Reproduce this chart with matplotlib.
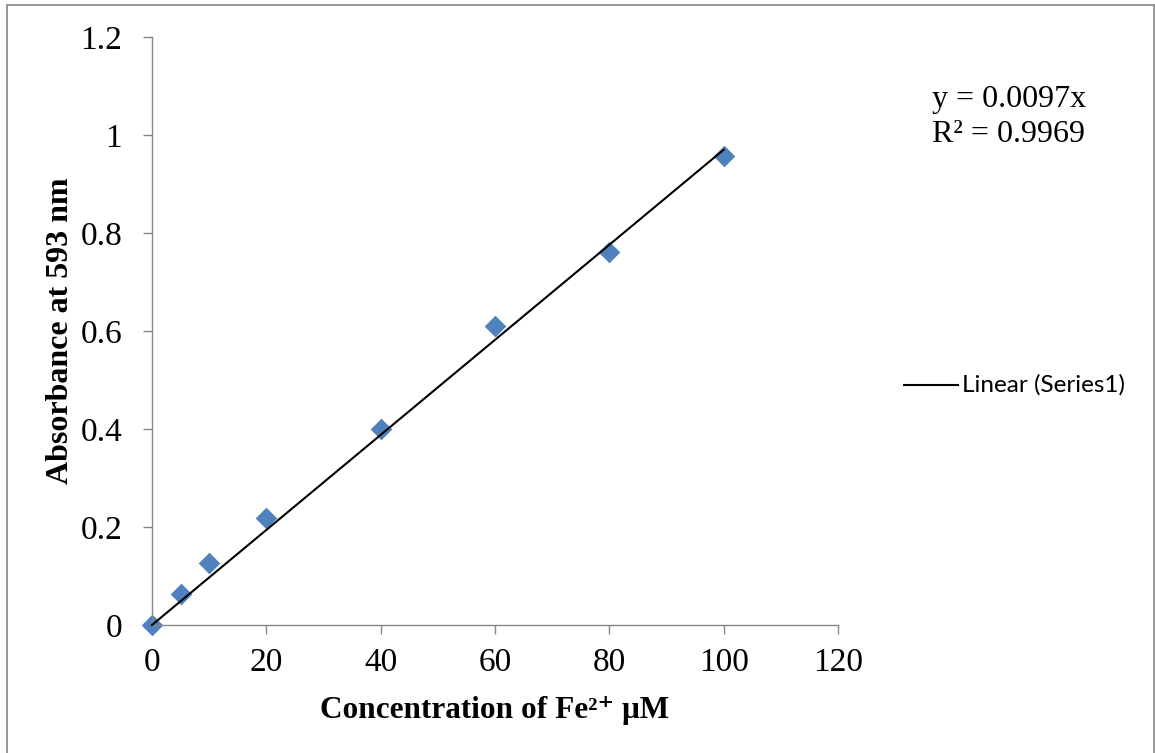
#!/usr/bin/env python3
## Fe2+ standard curve (absorbance vs concentration), Excel-style scatter with trendline

import numpy as np
import matplotlib
matplotlib.use("Agg")
import matplotlib.pyplot as plt
from matplotlib.lines import Line2D
from matplotlib.patches import Rectangle

plt.rcParams["font.family"] = ["Liberation Serif", "DejaVu Serif"]

## data
conc = [0, 5, 10, 20, 40, 60, 80, 100]
absorb = [0.0, 0.063, 0.126, 0.218, 0.401, 0.610, 0.761, 0.957]
slope = 0.0097
r2 = 0.9969
xticks = [0, 20, 40, 60, 80, 100, 120]
yticks = [0, 0.2, 0.4, 0.6, 0.8, 1.0, 1.2]
ytick_labels = ["0", "0.2", "0.4", "0.6", "0.8", "1", "1.2"]

W, H = 1155, 753
fig = plt.figure(figsize=(W / 100, H / 100), dpi=100)
ax = fig.add_axes([152 / W, 1 - 625 / H, (838 - 152) / W, (625 - 37) / H])

axcol = "#868686"
ax.scatter(conc, absorb, marker="D", s=11**2, color="#4F81BD", zorder=2,
           linewidths=0, clip_on=False)
xfit = np.array([conc[0], conc[-1]])
ax.plot(xfit, slope * xfit, color="black", lw=1.5, zorder=3, clip_on=False)

ax.set_xlim(0, 120)
ax.set_ylim(0, 1.2)
ax.set_xticks(xticks)
ax.set_yticks(yticks)
ax.set_yticklabels(ytick_labels)
ax.tick_params(direction="out", length=6.5, width=1, color=axcol, labelsize=24)
ax.tick_params(axis="y", pad=15)
ax.tick_params(axis="x", pad=10)

for s in ["top", "right"]:
    ax.spines[s].set_visible(False)
for s in ["left", "bottom"]:
    ax.spines[s].set_color(axcol)
    ax.spines[s].set_linewidth(1)

ax.set_xlabel("Concentration of Fe²⁺ μM", fontsize=22.5, fontweight="bold", labelpad=13)
ax.set_ylabel("Absorbance at 593 nm", fontsize=23, fontweight="bold", labelpad=4)

## trendline equation
fig.text(932 / W, 1 - 100 / H, f"y = {slope}x", fontsize=23, va="center", ha="left")
fig.text(932 / W, 1 - 135 / H, f"R² = {r2}", fontsize=23, va="center", ha="left")

## legend entry
fig.add_artist(Line2D([904 / W, 958 / W], [1 - 385 / H, 1 - 385 / H], color="black", lw=1.5))
fig.text(962 / W, 1 - 385 / H, "Linear (Series1)", fontsize=17.5, family="Lato",
         va="center", ha="left")

## outer chart border
fig.add_artist(Rectangle((7 / W, -0.02), (1154 - 7) / W, 1 - 5 / H + 0.02,
                         transform=fig.transFigure, fill=False, edgecolor=axcol, lw=1.2))

plt.savefig("out.png", dpi=100)
